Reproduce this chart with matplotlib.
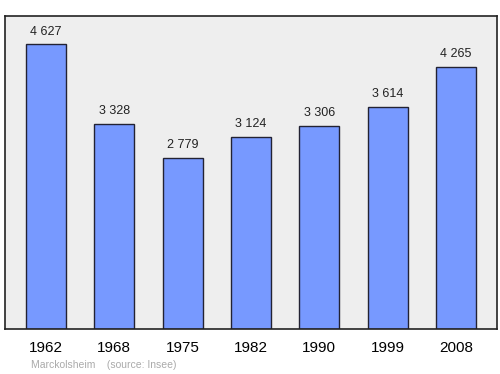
import matplotlib
matplotlib.use('Agg')
import matplotlib.pyplot as plt

plt.rcParams['font.family'] = ['Liberation Sans', 'DejaVu Sans']

years = ['1962', '1968', '1975', '1982', '1990', '1999', '2008']
population = [4627, 3328, 2779, 3124, 3306, 3614, 4265]
labels = ['4 627', '3 328', '2 779', '3 124', '3 306', '3 614', '4 265']

fig = plt.figure(figsize=(5, 3.74), dpi=100)
ax = fig.add_axes([0.01, 0.1203, 0.984, 0.8369])
ax.set_facecolor('#eeeeee')

x = range(len(years))
ax.bar(x, population, width=0.585, color='#7799ff', edgecolor='#222233', linewidth=1)

# value labels above each bar
for i, v in enumerate(population):
    ax.annotate(labels[i], (i, v), xytext=(0, 5), textcoords='offset points',
                ha='center', va='bottom', fontsize=9, color='#222222')

ax.set_xlim(-0.6, 6.6)
ax.set_ylim(0, max(population) * 1.1)
ax.set_xticks(list(x))
ax.set_xticklabels(years, fontsize=11)
ax.tick_params(axis='x', length=0, pad=8.5)
ax.set_yticks([])
for s in ax.spines.values():
    s.set_linewidth(1.2)
    s.set_color('#222222')

fig.text(0.062, 0.017, 'Marckolsheim    (source: Insee)', fontsize=7.5, color='#aaaaaa')

fig.savefig('out.png', dpi=100)
